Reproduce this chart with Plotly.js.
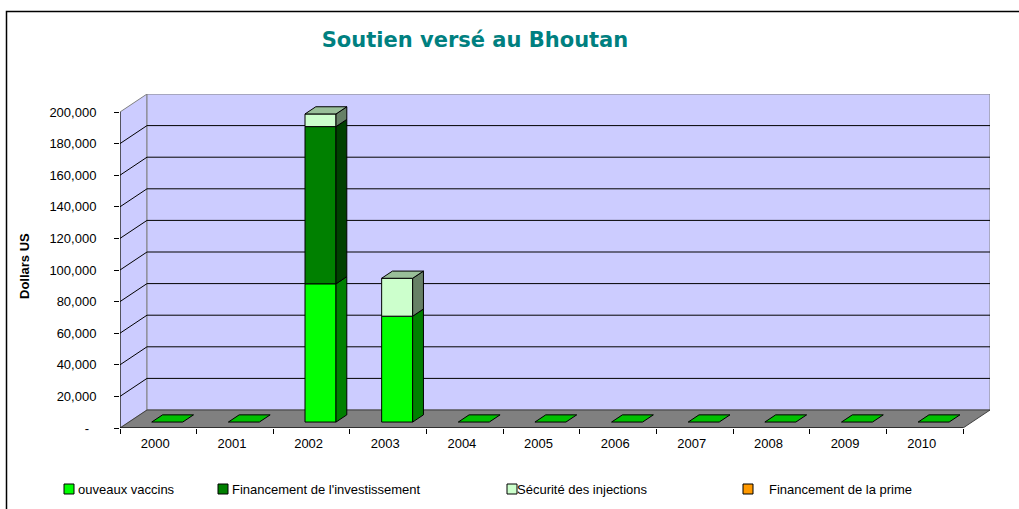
<!DOCTYPE html>
<html><head><meta charset="utf-8">
<script src="https://cdn.plot.ly/plotly-3.0.1.min.js"></script>
<style>html,body{margin:0;padding:0;background:#fff;}#chart{width:1019px;height:509px;}</style>
</head><body><div id="chart"></div>
<script>
// ---------- data ----------
const years = ['2000','2001','2002','2003','2004','2005','2006','2007','2008','2009','2010'];
const seriesNames = ['ouveaux vaccins', "Financement de l'investissement", 'Sécurité des injections', 'Financement de la prime'];
const nouveauxVaccins          = [0, 0, 87500, 67000, 0, 0, 0, 0, 0, 0, 0];
const financementInvestissement = [0, 0, 99500,     0, 0, 0, 0, 0, 0, 0, 0];
const securiteInjections       = [0, 0,  8000, 24000, 0, 0, 0, 0, 0, 0, 0];
const financementPrime         = [0, 0,     0,     0, 0, 0, 0, 0, 0, 0, 0];
const yTickVals = [0, 20000, 40000, 60000, 80000, 100000, 120000, 140000, 160000, 180000, 200000];
const yTickText = ['-\u00a0\u00a0', '20,000', '40,000', '60,000', '80,000', '100,000', '120,000', '140,000', '160,000', '180,000', '200,000'];

// ---------- styles / geometry ----------
const series = [nouveauxVaccins, financementInvestissement, securiteInjections, financementPrime];
const frontColors = ['#00FF00', '#008000', '#CCFFCC', '#FF9900'];
const sideColors  = ['#008000', '#004000', '#668066', '#804C00'];
const topColors   = ['#00C000', '#006000', '#99BF99', '#BF7300'];

const W = 1019, H = 509;
const ML = 120, MR = 29, MT = 94, MB = 81;
const PLOT_W = W - ML - MR, PLOT_H = H - MT - MB;
const PX_PER_CAT = 76.64;
const PX_PER_UNIT = 1.58 / 1000;
const DX = 27 / PX_PER_CAT;          // depth shift (categories)
const DY = 18 / PX_PER_UNIT;         // depth shift (value units)
const D0 = 0.33, D1 = 0.73;          // bar front/back depth fraction
const BW = 31 / PX_PER_CAT;          // bar width
const X0 = -0.5, X1 = years.length - 0.5;
const YMAX = yTickVals[yTickVals.length - 1];
const XR = [X0, X0 + PLOT_W / PX_PER_CAT];
const YR = [0, PLOT_H / PX_PER_UNIT];

const px2x = p => (p - ML) / PLOT_W;
const py2y = p => (H - MB - p) / PLOT_H;

const font = 'Liberation Sans, Arial, sans-serif';
const traces = [];
const shapes = [];
const annotations = [];

// walls, floor, gridlines (below traces)
shapes.push({type:'path', layer:'below', xref:'x', yref:'y',
  path:`M${X0},0 L${X0},${YMAX} L${X0+DX},${YMAX+DY} L${X0+DX},${DY} Z`,
  fillcolor:'#CCCCFF', line:{color:'#808080', width:1}});
shapes.push({type:'rect', layer:'below', xref:'x', yref:'y',
  x0:X0+DX, x1:X1+DX, y0:DY, y1:YMAX+DY, fillcolor:'#CCCCFF', line:{color:'#808080', width:1}});
yTickVals.forEach(v => {
  if (v > 0 && v < YMAX) {
    shapes.push({type:'path', layer:'below', xref:'x', yref:'y',
      path:`M${X0},${v} L${X0+DX},${v+DY} L${X1+DX},${v+DY}`,
      line:{color:'#000000', width:1}});
  }
});
shapes.push({type:'path', layer:'below', xref:'x', yref:'y',
  path:`M${X0},0 L${X1},0 L${X1+DX},${DY} L${X0+DX},${DY} Z`,
  fillcolor:'#808080', line:{color:'#404040', width:1}});
// front axes lines
shapes.push({type:'line', layer:'above', xref:'x', yref:'y', x0:X0, x1:X0, y0:0, y1:YMAX, line:{color:'#000', width:1}});
shapes.push({type:'line', layer:'above', xref:'x', yref:'y', x0:X0 - 5/PX_PER_CAT, x1:X1, y0:0, y1:0, line:{color:'#000', width:1}});

// bars
const cum = years.map(() => 0);
const topIdx = years.map((_, i) => { let t = -1; series.forEach((s, k) => { if (s[i] > 0) t = k; }); return t; });
series.forEach((vals, k) => {
  const xs = years.map((_, i) => i + D0*DX);
  const bases = years.map((_, i) => cum[i] + D0*DY);
  traces.push({type:'bar', x:xs, y:vals.map(v => v > 0 ? v : null), base:bases, width:BW,
    marker:{color:frontColors[k], line:{color:'#000', width:1}}, hoverinfo:'skip', showlegend:false, name:seriesNames[k]});
  vals.forEach((v, i) => {
    if (v <= 0) return;
    const b = cum[i], t = cum[i] + v;
    const xrF = i + D0*DX + BW/2, xrB = i + D1*DX + BW/2;
    const xlF = i + D0*DX - BW/2, xlB = i + D1*DX - BW/2;
    traces.push({type:'scatter', mode:'lines', fill:'toself', fillcolor:sideColors[k],
      x:[xrF, xrF, xrB, xrB, xrF], y:[b+D0*DY, t+D0*DY, t+D1*DY, b+D1*DY, b+D0*DY],
      line:{color:'#000', width:1}, hoverinfo:'skip', showlegend:false});
    if (topIdx[i] === k) {
      traces.push({type:'scatter', mode:'lines', fill:'toself', fillcolor:topColors[k],
        x:[xlF, xrF, xrB, xlB, xlF], y:[t+D0*DY, t+D0*DY, t+D1*DY, t+D1*DY, t+D0*DY],
        line:{color:'#000', width:1}, hoverinfo:'skip', showlegend:false});
    }
  });
  vals.forEach((v, i) => { cum[i] += v; });
});
// flat tops for empty years
years.forEach((_, i) => {
  if (topIdx[i] >= 0) return;
  const xrF = i + D0*DX + BW/2, xrB = i + D1*DX + BW/2;
  const xlF = i + D0*DX - BW/2, xlB = i + D1*DX - BW/2;
  traces.push({type:'scatter', mode:'lines', fill:'toself', fillcolor:topColors[0],
    x:[xlF, xrF, xrB, xlB, xlF], y:[D0*DY, D0*DY, D1*DY, D1*DY, D0*DY],
    line:{color:'#000', width:1}, hoverinfo:'skip', showlegend:false});
});

// legend (custom)
const legendBoxX = [64, 218, 507, 743];
const legendTextX = [76, 230, 515, 767];
const legendY = 489;
seriesNames.forEach((name, k) => {
  shapes.push({type:'rect', xref:'paper', yref:'paper', layer:'above',
    x0:px2x(legendBoxX[k]), x1:px2x(legendBoxX[k]+10), y0:py2y(legendY+5), y1:py2y(legendY-5),
    fillcolor:frontColors[k], line:{color:'#000', width:1}});
  annotations.push({xref:'paper', yref:'paper', x:px2x(legendTextX[k]), y:py2y(legendY),
    xanchor:'left', yanchor:'middle', showarrow:false, text:name,
    font:{family:font, size:13, color:'#000'}});
});
// y-axis title
annotations.push({xref:'paper', yref:'paper', x:px2x(24), y:py2y(266), xanchor:'center', yanchor:'middle',
  showarrow:false, text:'Dollars US', textangle:-90, font:{family:font, size:13, color:'#000', weight:'bold'}});
// outer border (left & top)
shapes.push({type:'path', xref:'paper', yref:'paper', layer:'above',
  path:`M${px2x(6.5)},${py2y(520)} L${px2x(6.5)},${py2y(11.5)} L${px2x(1030)},${py2y(11.5)}`,
  line:{color:'#000', width:1.5}});

const layout = {
  width:W, height:H, margin:{l:ML, r:MR, t:MT, b:MB, pad:0},
  paper_bgcolor:'#fff', plot_bgcolor:'#fff', showlegend:false, barmode:'overlay', hovermode:false,
  title:{text:'Soutien versé au Bhoutan', xref:'container', yref:'container', x:475/W, y:1-40/H,
    xanchor:'center', yanchor:'middle', font:{family:'DejaVu Sans, Verdana, sans-serif', size:21, color:'#008080', weight:'bold'}},
  xaxis:{range:XR, showgrid:false, zeroline:false, showline:false,
    tickmode:'array', tickvals:years.map((_, i) => i - 3/PX_PER_CAT), ticktext:years, ticks:'',
    ticklabelstandoff:6, tickfont:{family:font, size:13, color:'#000'},
    minor:{tick0:-0.5, dtick:1, ticks:'outside', ticklen:5, tickcolor:'#000', tickwidth:1, showgrid:false}},
  yaxis:{range:YR, showgrid:false, zeroline:false, showline:false,
    tickmode:'array', tickvals:yTickVals, ticktext:yTickText, ticks:'outside', ticklen:5, tickcolor:'#000',
    ticklabelstandoff:15, tickfont:{family:font, size:13, color:'#000'}},
  shapes:shapes, annotations:annotations
};
Plotly.newPlot('chart', traces, layout, {displayModeBar:false, staticPlot:true});
</script></body></html>
